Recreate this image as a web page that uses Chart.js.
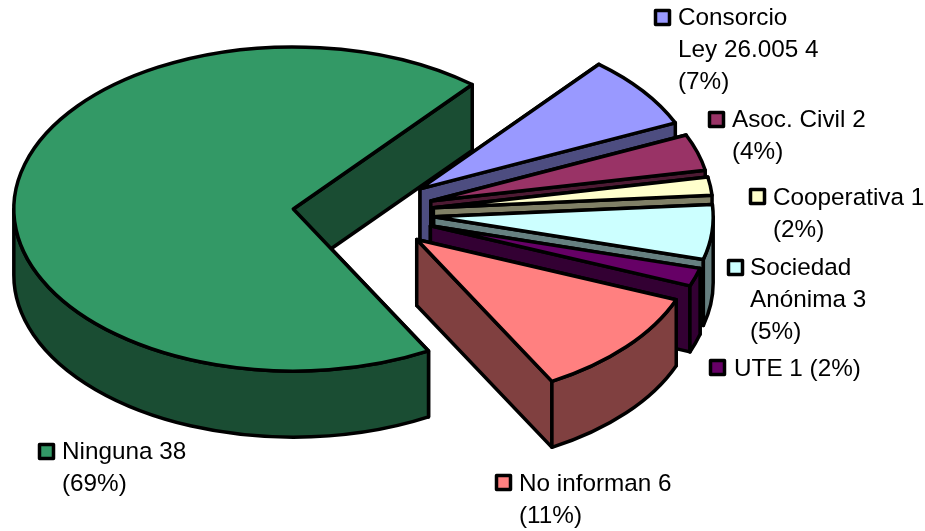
<!DOCTYPE html>
<html>
<head>
<meta charset="utf-8">
<style>html,body{margin:0;padding:0;background:#fff}canvas{display:block}</style>
<script src="https://cdn.jsdelivr.net/npm/chart.js@4/dist/chart.umd.min.js"></script>
</head>
<body>
<canvas id="c" width="925" height="531"></canvas>
<script>
const categories = ['Consorcio Ley 26.005', 'Asoc. Civil', 'Cooperativa', 'Sociedad Anónima', 'UTE', 'No informan', 'Ninguna'];
const values = [4, 2, 1, 3, 1, 6, 38];
const topColors = ['#9999FF', '#993366', '#FFFFCC', '#CCFFFF', '#660066', '#FF8080', '#339966'];
const sideColors = ['#4D4D80', '#4D1A33', '#808066', '#668080', '#330033', '#804040', '#1A4D33'];
const labelLines = [
  ['Consorcio', 'Ley 26.005 4', '(7%)'],
  ['Asoc. Civil 2', '(4%)'],
  ['Cooperativa 1', '(2%)'],
  ['Sociedad', 'Anónima 3', '(5%)'],
  ['UTE 1 (2%)'],
  ['No informan 6', '(11%)'],
  ['Ninguna 38', '(69%)']
];
// label layout: marker left/top, text left, first baseline
const labelBoxes = [
  [654, 9, 678, 25], [708, 111, 732, 127], [749, 188, 773, 205], [727, 259, 750, 275],
  [709, 359, 734, 376], [495, 474, 519, 491], [38, 443, 62, 459]
];
const explosion = [69, 69, 69, 69, 69, 69, 72];
const TILT = 0.58, DEPTH = 66, EDGE = 3.5, LINE_H = 32;
const FONT = '24.3px "Liberation Sans", Arial, sans-serif';

const pie3d = {
  id: 'pie3d',
  beforeDatasetsDraw(chart) {
    const ctx = chart.ctx;
    const arcs = chart.getDatasetMeta(0).data;
    const order = [6, 0, 1, 2, 3, 4, 5];
    ctx.save();
    ctx.lineWidth = EDGE; ctx.lineJoin = 'round'; ctx.lineCap = 'round'; ctx.strokeStyle = '#000';
    order.forEach(i => {
      const arc = arcs[i];
      const { x, y, startAngle: a0, endAngle: a1, outerRadius: R } = arc.getProps(['x', 'y', 'startAngle', 'endAngle', 'outerRadius'], true);
      const mid = (a0 + a1) / 2;
      const E = explosion[i];
      const cx = x + Math.cos(mid) * E;
      const cy = y + Math.sin(mid) * E * TILT;
      const rim = a => [cx + Math.cos(a) * R, cy + Math.sin(a) * R * TILT];
      const paint = fill => { ctx.fillStyle = fill; ctx.fill(); ctx.stroke(); };
      // radial faces
      [a0, a1].forEach(a => {
        const p = rim(a);
        ctx.beginPath();
        ctx.moveTo(cx, cy); ctx.lineTo(p[0], p[1]); ctx.lineTo(p[0], p[1] + DEPTH); ctx.lineTo(cx, cy + DEPTH);
        ctx.closePath();
        paint(sideColors[i]);
      });
      // outer wall, only the part that faces the viewer
      const twoPi = Math.PI * 2;
      for (let k = -1; k <= 1; k++) {
        const s = Math.max(a0, k * twoPi), e = Math.min(a1, k * twoPi + Math.PI);
        if (e > s) {
          ctx.beginPath();
          ctx.ellipse(cx, cy, R, R * TILT, 0, s, e);
          ctx.ellipse(cx, cy + DEPTH, R, R * TILT, 0, e, s, true);
          ctx.closePath();
          paint(sideColors[i]);
        }
      }
      // top face: drawn by the library's arc element under the tilt
      ctx.save();
      ctx.translate(x, y); ctx.scale(1, TILT); ctx.translate(-x, -y);
      ctx.translate(Math.cos(mid) * E, Math.sin(mid) * E);
      arc.draw(ctx);
      ctx.restore();
      ctx.beginPath();
      ctx.moveTo(cx, cy);
      ctx.ellipse(cx, cy, R, R * TILT, 0, a0, a1);
      ctx.closePath();
      ctx.stroke();
    });
    ctx.restore();
    return false;
  },
  afterDraw(chart) {
    const ctx = chart.ctx;
    ctx.save();
    ctx.font = FONT; ctx.textBaseline = 'alphabetic'; ctx.textAlign = 'left'; ctx.fillStyle = '#000';
    labelLines.forEach((lines, i) => {
      const [mx, my, tx, ty] = labelBoxes[i];
      ctx.fillStyle = topColors[i];
      ctx.strokeStyle = '#000'; ctx.lineWidth = EDGE; ctx.lineJoin = 'round';
      ctx.fillRect(mx + 1.5, my + 1.5, 14, 14);
      ctx.strokeRect(mx + 1.5, my + 1.5, 14, 14);
      ctx.fillStyle = '#000';
      lines.forEach((t, j) => ctx.fillText(t, tx, ty + j * LINE_H));
    });
    ctx.restore();
  }
};

new Chart(document.getElementById('c'), {
  type: 'pie',
  data: {
    labels: categories,
    datasets: [{ data: values, backgroundColor: topColors, borderWidth: 0 }]
  },
  options: {
    responsive: false,
    devicePixelRatio: 1,
    animation: false,
    rotation: 39.8,
    radius: 279.5,
    layout: { padding: { left: 0, top: 0, right: 195, bottom: 105 } },
    plugins: { legend: { display: false }, tooltip: { enabled: false } }
  },
  plugins: [pie3d]
});
</script>
</body>
</html>
